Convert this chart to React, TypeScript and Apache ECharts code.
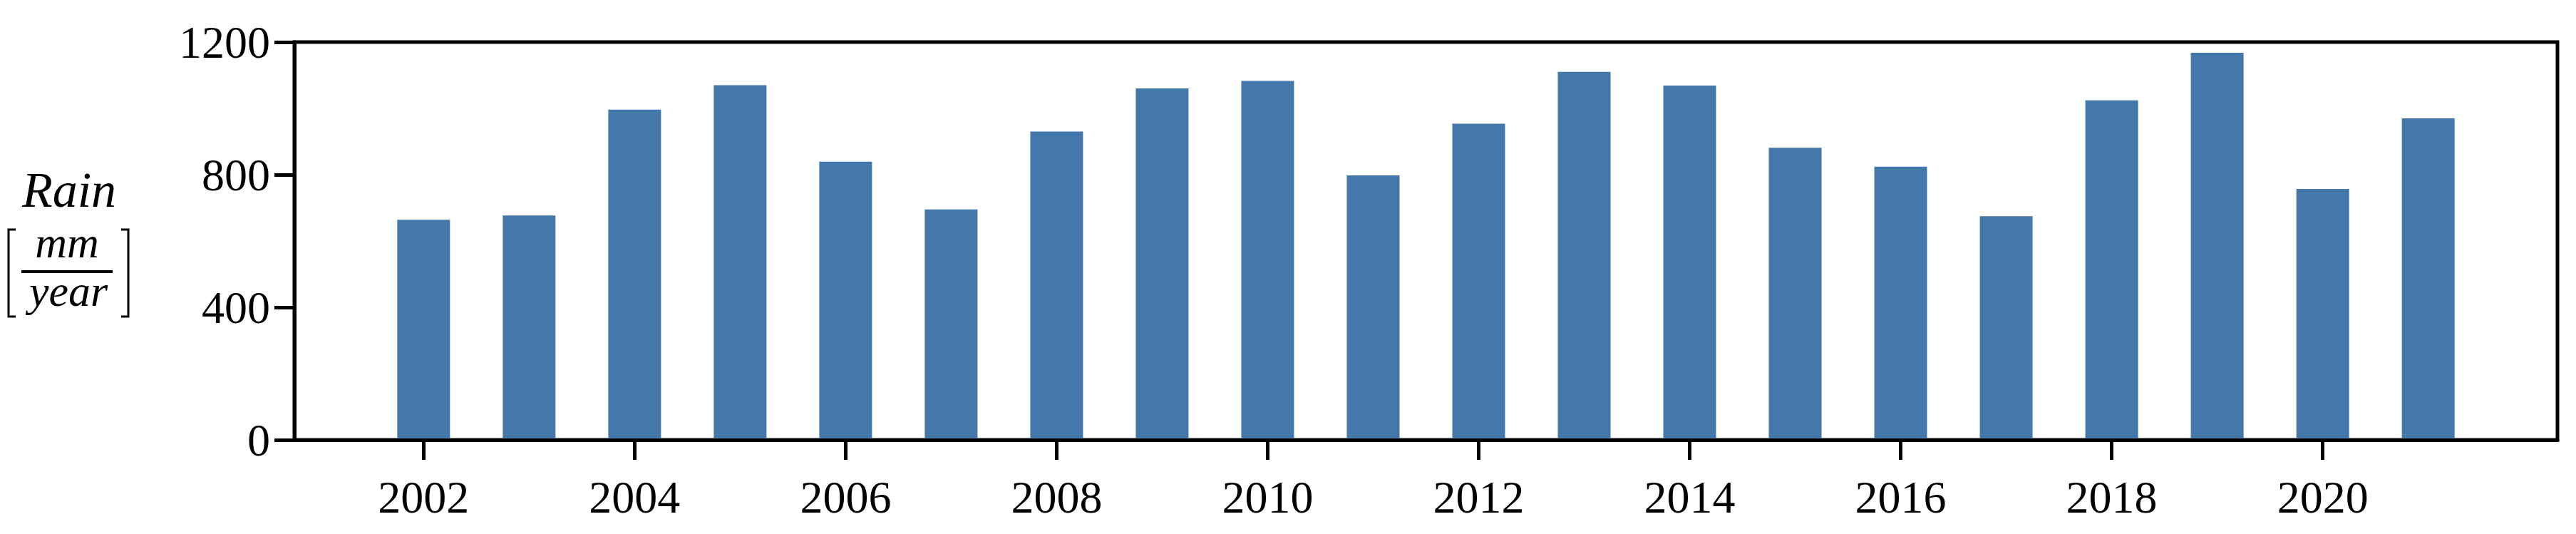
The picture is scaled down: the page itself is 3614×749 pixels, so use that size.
import React, { useEffect, useRef } from "react";
import * as echarts from "echarts";

const years = [2002, 2003, 2004, 2005, 2006, 2007, 2008, 2009, 2010, 2011, 2012, 2013, 2014, 2015, 2016, 2017, 2018, 2019, 2020, 2021];
const rain = [664, 677, 996, 1070, 839, 695, 930, 1060, 1083, 798, 954, 1110, 1069, 881, 824, 675, 1024, 1168, 757, 970];
const xTicks = [2002, 2004, 2006, 2008, 2010, 2012, 2014, 2016, 2018, 2020];
const yTicks = [0, 400, 800, 1200];
const yLabelTop = "Rain";
const yLabelNum = "mm";
const yLabelDen = "year";

const FONT = "'Liberation Serif', 'Times New Roman', serif";

export default function App() {
  const ref = useRef<HTMLDivElement>(null);
  useEffect(() => {
    if (!ref.current) return;
    const chart = echarts.init(ref.current, undefined, { renderer: "svg" });
    const italic = { fontFamily: FONT, fontStyle: "italic", fill: "#000", align: "center", verticalAlign: "middle" };
    chart.setOption({
      animation: false,
      backgroundColor: "#fff",
      grid: {
        left: 413,
        right: 26,
        top: 59,
        bottom: 132,
        show: true,
        borderColor: "#000",
        borderWidth: 5,
        backgroundColor: "transparent",
      },
      xAxis: {
        type: "value",
        min: 2000.775,
        max: 2022.225,
        z: 5,
        axisLine: { show: true, onZero: false, lineStyle: { color: "#000", width: 5 } },
        axisTick: { show: true, customValues: xTicks, length: 28, lineStyle: { color: "#000", width: 5 } },
        axisLabel: {
          customValues: xTicks,
          margin: 48,
          fontSize: 64,
          fontFamily: FONT,
          color: "#000",
          formatter: (v: number) => String(Math.round(v)),
        },
        splitLine: { show: false },
      },
      yAxis: {
        type: "value",
        min: yTicks[0],
        max: yTicks[yTicks.length - 1],
        interval: 400,
        z: 5,
        axisLine: { show: true, lineStyle: { color: "#000", width: 5 } },
        axisTick: { show: true, length: 28, lineStyle: { color: "#000", width: 5 } },
        axisLabel: {
          margin: 34,
          fontSize: 64,
          fontFamily: FONT,
          color: "#000",
          formatter: (v: number) => String(Math.round(v)),
        },
        splitLine: { show: false },
      },
      series: [
        {
          type: "bar",
          data: years.map((y, i) => [y, rain[i]]),
          barWidth: 74,
          itemStyle: { color: "#4477aa" },
        },
      ],
      graphic: [
        { type: "text", x: 97, y: 266, style: { ...italic, fontSize: 70, text: yLabelTop } },
        { type: "text", x: 94, y: 340, style: { ...italic, fontSize: 62, text: yLabelNum } },
        { type: "line", shape: { x1: 30, y1: 381, x2: 158, y2: 381 }, style: { stroke: "#000", lineWidth: 4 } },
        { type: "text", x: 96, y: 408, style: { ...italic, fontSize: 62, text: yLabelDen } },
        { type: "polyline", shape: { points: [[22, 322], [12, 322], [12, 444], [22, 444]] }, style: { stroke: "#000", lineWidth: 3, fill: "none" } },
        { type: "polyline", shape: { points: [[170, 322], [180, 322], [180, 444], [170, 444]] }, style: { stroke: "#000", lineWidth: 3, fill: "none" } },
      ],
    });
    return () => chart.dispose();
  }, []);
  return <div ref={ref} style={{ position: "fixed", left: 0, top: 0, width: 3614, height: 749 }} />;
}
